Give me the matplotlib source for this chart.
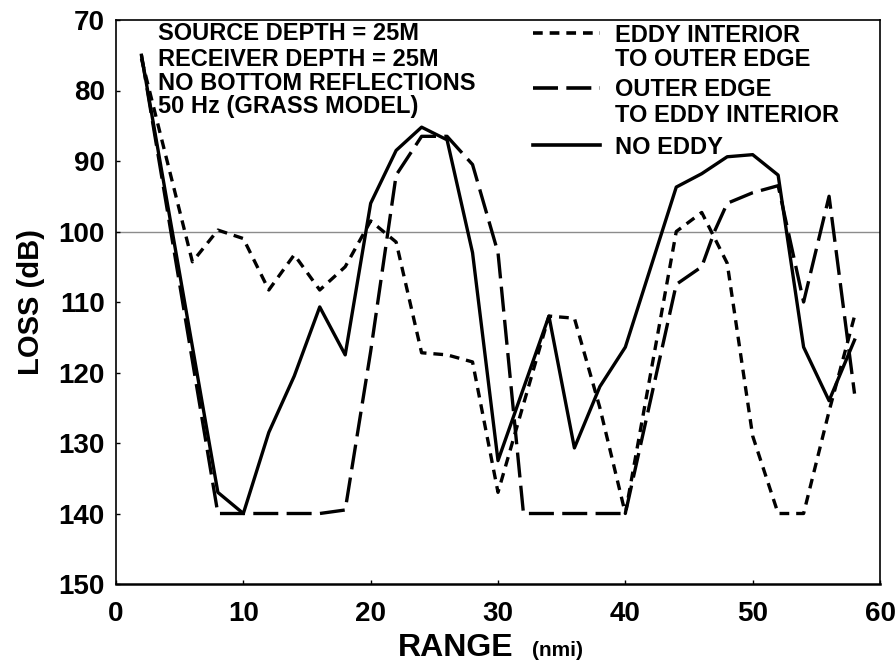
import numpy as np
import matplotlib
matplotlib.use("Agg")
from matplotlib import pyplot as plt

# range (nmi) and transmission loss (dB)
x_no_eddy = [2, 8, 10, 12, 14, 16, 18, 20, 22, 24, 26, 28, 30, 34, 36, 38, 40,
             44, 46, 48, 50, 52, 54, 56, 58]
loss_no_eddy = [75, 137, 140, 128.5, 120.5, 110.7, 117.5, 96, 88.5, 85.2, 87, 103,
                132.5, 112, 130.7, 122, 116.4, 93.7, 91.8, 89.4, 89.1, 92, 116.4,
                124, 115.4]

x_int_to_edge = [2, 6, 8, 10, 12, 14, 16, 18, 20, 22, 24, 26, 28, 30, 34, 36, 38,
                 40, 44, 46, 48, 50, 52, 54, 56, 58]
loss_int_to_edge = [75.5, 104.3, 99.8, 101, 108.3, 103.3, 108.3, 105, 98.5, 101.5,
                    117.2, 117.5, 118.5, 137, 112, 112.3, 125, 140, 100, 97.3,
                    104.5, 129, 140, 140, 125.5, 112]

x_edge_to_int = [2, 8, 10, 12, 14, 16, 18, 20, 22, 24, 26, 28, 30, 32, 34, 36, 38,
                 40, 44, 46, 47, 48, 50, 52, 54, 56, 58]
loss_edge_to_int = [75, 140, 140, 140, 140, 140, 139.5, 117, 92, 86.5, 86.5, 90.5,
                    103, 140, 140, 140, 140, 140, 107.5, 105, 100, 96, 94.5, 93.5,
                    110, 95, 123]

notes = ["SOURCE DEPTH = 25M", "RECEIVER DEPTH = 25M",
         "NO BOTTOM REFLECTIONS", "50 Hz (GRASS MODEL)"]
legend_rows = [["EDDY INTERIOR", "TO OUTER EDGE"],
               ["OUTER EDGE", "TO EDDY INTERIOR"],
               ["NO EDDY"]]

plt.rcParams['font.family'] = ['Liberation Sans', 'DejaVu Sans']
plt.rcParams['font.weight'] = 'bold'
plt.rcParams['lines.scale_dashes'] = False

fig = plt.figure(figsize=(8.96, 6.67), dpi=100)
ax = fig.add_axes([116/896, 1-584/667, 764/896, 564/667])

# pixel -> axes fraction helpers
def fx(px):
    return (px - 116) / 764.0

def fy(py):
    return (584 - py) / 564.0

ax.axhline(100, color='#8c8c8c', lw=1.0, zorder=1)

short = (0, (7, 5))
long_ = (0, (18, 6))
ax.plot(x_int_to_edge, loss_int_to_edge, color='k', lw=2.4, linestyle=short)
ax.plot(x_edge_to_int, loss_edge_to_int, color='k', lw=2.4, linestyle=long_)
ax.plot(x_no_eddy, loss_no_eddy, color='k', lw=2.4, linestyle='-')

ax.set_xlim(0, 60)
ax.set_ylim(150, 70)
ax.set_xticks(np.arange(0, 61, 10))
ax.set_yticks(np.arange(70, 151, 10))
ax.tick_params(direction='in', length=3, width=1, labelsize=20)
ax.tick_params(axis='x', pad=12)
ax.tick_params(axis='y', pad=8)
for s in ax.spines.values():
    s.set_linewidth(1.2)
ax.spines['bottom'].set_linewidth(1.8)

ax.set_ylabel('LOSS (dB)', fontsize=21, fontweight='bold', labelpad=10)
fig.text(398/896, 1-648/667, 'RANGE', fontsize=23, fontweight='bold',
         ha='left', va='center')
fig.text(532/896, 1-651/667, '(nmi)', fontsize=15, fontweight='bold',
         ha='left', va='center')

# annotation block, upper left
note_y = [33.5, 60, 83.5, 106.5]
for t, py in zip(notes, note_y):
    ax.text(fx(158), fy(py), t, transform=ax.transAxes, fontsize=17,
            fontweight='bold', ha='left', va='center')

# legend with samples aligned to first text line
row_y = [[35, 60], [90, 115], [147]]
styles = [short, long_, '-']
for rows, ys, ls in zip(legend_rows, row_y, styles):
    ax.plot([fx(533), fx(600)], [fy(ys[0] - 2)] * 2, transform=ax.transAxes,
            color='k', lw=2.6, linestyle=ls, clip_on=False)
    for t, py in zip(rows, ys):
        ax.text(fx(615), fy(py), t, transform=ax.transAxes, fontsize=17,
                fontweight='bold', ha='left', va='center')

plt.savefig('out.png', dpi=100)
